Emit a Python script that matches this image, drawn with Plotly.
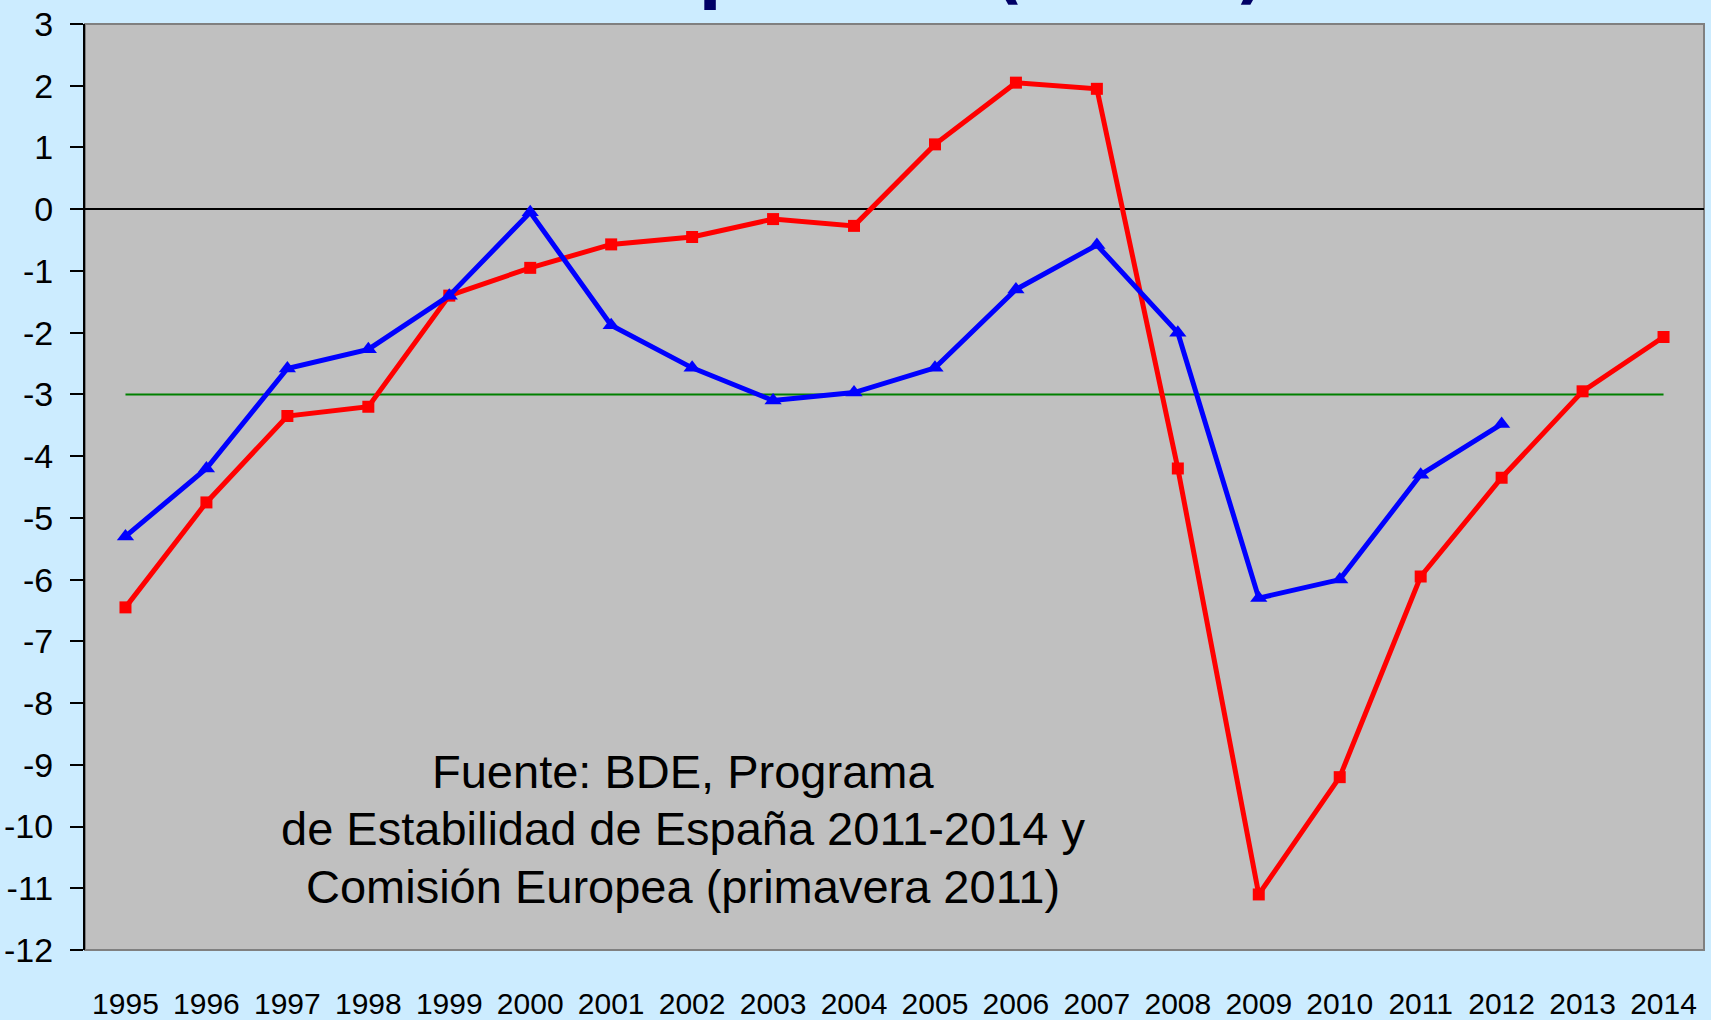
import plotly.graph_objects as go

years = [str(y) for y in range(1995, 2015)]
red_vals = [-6.45, -4.75, -3.35, -3.2, -1.4, -0.95, -0.57, -0.45, -0.16, -0.27,
            1.05, 2.05, 1.95, -4.2, -11.1, -9.2, -5.95, -4.35, -2.95, -2.07]
blue_years = years[:18]
blue_vals = [-5.3, -4.2, -2.58, -2.27, -1.4, -0.05, -1.88, -2.57, -3.1, -2.97,
             -2.57, -1.3, -0.58, -2.0, -6.3, -6.0, -4.3, -3.48]
ref_vals = [-3] * len(years)

title_text = "Déficit público (% PIB)"
source_lines = ["Fuente: BDE, Programa",
                "de Estabilidad de España 2011-2014 y",
                "Comisión Europea (primavera 2011)"]
yticks = list(range(-12, 4))
yticktext = [str(v) for v in yticks]

W, H = 1711, 1020
ml, mr, mt, mb = 85, 7, 24, 70
pw = W - ml - mr
ph = H - mt - mb

font_txt = "Liberation Sans, Arial, sans-serif"

fig = go.Figure()
fig.add_trace(go.Scatter(x=years, y=ref_vals, mode="lines",
                         line=dict(color="#008000", width=2), hoverinfo="skip"))
fig.add_trace(go.Scatter(x=years, y=red_vals, mode="lines+markers",
                         line=dict(color="#FF0000", width=5),
                         marker=dict(symbol="square", size=12, color="#FF0000")))
fig.add_trace(go.Scatter(x=blue_years, y=blue_vals, mode="lines+markers",
                         line=dict(color="#0000FF", width=5),
                         marker=dict(symbol="triangle-up", size=15, color="#0000FF")))

def py(px):
    return (H - mb - px) / ph

def pxx(px):
    return (px - ml) / pw

annotations = [dict(text=title_text, xref="paper", yref="paper", x=pxx(850), y=py(14),
                    xanchor="center", yanchor="bottom", showarrow=False,
                    font=dict(family="DejaVu Sans", size=66, color="#000066", weight="bold"))]
for i, line in enumerate(source_lines):
    annotations.append(dict(text=line, xref="paper", yref="paper",
                            x=pxx(683), y=py(771 + 57.5 * i),
                            xanchor="center", yanchor="middle", showarrow=False,
                            font=dict(family=font_txt, size=47, color="#000000")))

fig.update_layout(
    width=W, height=H,
    margin=dict(l=ml, r=mr, t=mt, b=mb, autoexpand=False),
    paper_bgcolor="#CCECFF", plot_bgcolor="#C0C0C0",
    showlegend=False,
    annotations=annotations,
    shapes=[dict(type="rect", xref="paper", yref="paper", x0=0, x1=1, y0=0, y1=1,
                 line=dict(color="#808080", width=2), layer="below")],
    xaxis=dict(type="category", range=[-0.5, 19.5], showgrid=False, zeroline=False,
               showline=False, ticks="", ticklabelstandoff=33, tickangle=0,
               automargin=False,
               tickfont=dict(family=font_txt, size=30, color="#000000")),
    yaxis=dict(range=[-12, 3], tickvals=yticks, ticktext=yticktext, showgrid=False,
               zeroline=True, zerolinecolor="#000000", zerolinewidth=2,
               showline=True, linecolor="#000000", linewidth=2,
               ticks="outside", ticklen=13, tickwidth=2, tickcolor="#000000",
               ticklabelstandoff=10, automargin=False,
               tickfont=dict(family=font_txt, size=34, color="#000000")),
)

fig.write_html("out.html", config={"displayModeBar": False},
               post_script="document.body.style.margin='0px';document.body.style.overflow='hidden';")
